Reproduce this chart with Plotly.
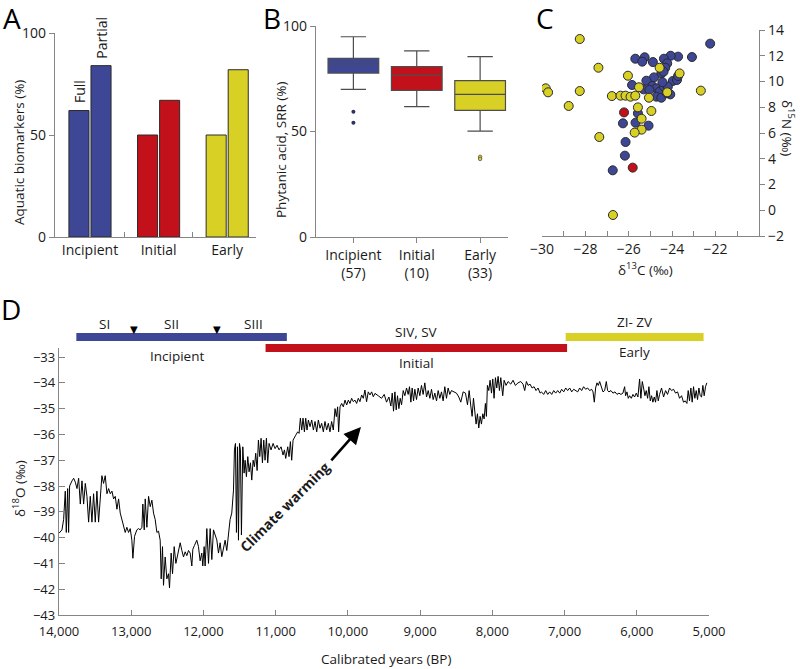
import plotly.graph_objects as go

W, H = 802, 669
FONT = "Open Sans"
AX = "#858585"
TXT = "#1a1a1a"

# ---------------- Panel A data ----------------
groups = ["Incipient", "Initial", "Early"]
group_colors = ["#3e4795", "#c3111b", "#d9d026"]
full_pct = [62, 50, 50]
partial_pct = [84, 67, 82]

# ---------------- Panel B data ----------------
box_n = [57, 10, 33]
box_lo = [70.0, 61.8, 50.2]
box_q1 = [77.7, 69.5, 60.0]
box_med = [82.0, 76.6, 67.6]
box_q3 = [84.7, 80.7, 74.1]
box_hi = [94.9, 88.2, 85.5]
outliers_incipient = [59.4, 54.2]
outliers_early = [38.0, 37.0]

# ---------------- Panel C data ----------------
c13_incipient = [-22.25, -23.09, -23.73, -24.07, -24.38, -25.27, -25.70, -25.38, -24.89, -24.23,
                 -24.32, -24.50, -24.40, -24.84, -25.19, -23.97, -23.78, -23.73, -25.85, -25.32,
                 -24.92, -24.73, -24.58, -24.38, -24.20, -24.73, -24.50, -24.09, -25.58, -25.69,
                 -26.27, -25.09, -26.15, -26.18, -26.74, -25.05, -24.45, -24.25]
n15_incipient = [12.94, 11.90, 11.93, 12.00, 11.77, 11.88, 11.77, 11.54, 11.51, 11.41,
                 11.07, 10.63, 10.76, 10.32, 10.06, 10.04, 10.12, 10.43, 9.73, 9.39,
                 9.65, 9.47, 9.21, 9.60, 9.60, 8.82, 8.74, 9.00, 7.53, 6.80,
                 6.75, 6.57, 5.30, 4.24, 3.10, 9.35, 9.95, 9.10]
c13_early = [-28.26, -29.83, -29.72, -28.77, -28.26, -27.40, -27.36, -26.78, -26.38, -26.15,
             -25.92, -25.70, -26.04, -25.53, -25.58, -25.41, -25.41, -25.73, -24.96, -25.07,
             -24.58, -24.23, -23.66, -22.68, -26.73]
n15_early = [13.30, 9.47, 9.16, 8.10, 9.26, 11.07, 5.69, 8.87, 8.90, 8.90,
             8.82, 8.90, 10.45, 9.55, 7.99, 7.11, 6.26, 6.03, 7.71, 8.74,
             11.07, 9.16, 10.63, 9.29, -0.37]
c13_initial = [-26.22, -25.82]
n15_initial = [7.60, 3.31]

# ---------------- Panel D data ----------------
years = [14000, 13959, 13936, 13913, 13899, 13880, 13867, 13853, 13820, 13797,
         13774, 13751, 13728, 13705, 13682, 13659, 13636, 13613, 13590, 13567,
         13544, 13521, 13498, 13475, 13452, 13429, 13406, 13383, 13360, 13336,
         13313, 13290, 13267, 13244, 13221, 13198, 13175, 13152, 13129, 13106,
         13083, 13060, 13037, 13014, 12991, 12977, 12954, 12922, 12899, 12876,
         12852, 12839, 12820, 12806, 12783, 12760, 12737, 12714, 12691, 12668,
         12645, 12622, 12599, 12585, 12567, 12553, 12530, 12507, 12484, 12470,
         12447, 12428, 12405, 12382, 12355, 12322, 12299, 12276, 12253, 12230,
         12207, 12184, 12161, 12147, 12124, 12092, 12069, 12046, 12023, 12009,
         11990, 11977, 11953, 11930, 11907, 11884, 11861,
         11815, 11792, 11769, 11746, 11723, 11700, 11677, 11654, 11631, 11608,
         11584, 11571, 11557, 11543, 11529, 11515, 11501, 11488, 11474, 11455,
         11437, 11423, 11405, 11386, 11368, 11349, 11331, 11312, 11294, 11276,
         11257, 11239, 11220, 11202, 11183, 11165, 11147, 11128, 11110, 11091,
         11064, 11036, 11008, 10981, 10953, 10925, 10898, 10879, 10861, 10833,
         10815, 10796, 10778, 10759, 10741, 10722, 10695, 10676, 10658, 10639,
         10621, 10602, 10584, 10566, 10547, 10524, 10501, 10478, 10455, 10432,
         10409, 10386, 10363, 10340, 10317, 10294, 10271, 10248, 10225, 10202,
         10178, 10160, 10142, 10128, 10109, 10086, 10063, 10040, 10017, 9994,
         9971, 9948, 9925, 9902, 9879, 9856, 9833, 9810, 9787, 9764,
         9741, 9718, 9694, 9671, 9648, 9625,
         9580, 9534, 9497, 9465, 9432, 9405, 9386, 9368, 9349, 9331,
         9313, 9294, 9276, 9257, 9234, 9211, 9188, 9165, 9147, 9128,
         9110, 9091, 9073, 9050, 9027, 9004, 8981, 8958, 8935, 8911,
         8888, 8865, 8842, 8819, 8796, 8773, 8750, 8727, 8704, 8681,
         8658, 8635, 8612, 8589, 8566, 8529, 8497, 8464, 8437, 8404,
         8372, 8344, 8321, 8298, 8280, 8261, 8243, 8225, 8206, 8188,
         8169, 8151, 8132, 8114, 8096, 8082, 8068, 8049, 8031, 8012,
         7994, 7976, 7957, 7939, 7920, 7902, 7883, 7856, 7837, 7810,
         7782, 7745, 7713, 7681, 7644, 7607, 7575, 7552, 7528, 7505,
         7478, 7450, 7422, 7395, 7367, 7339,
         7321, 7289, 7261, 7233, 7206, 7178, 7150, 7123, 7095, 7067,
         7040, 7012, 6984, 6957, 6929, 6901, 6874, 6846, 6818, 6791,
         6763, 6736, 6708, 6680, 6653, 6625, 6606, 6588, 6570, 6551,
         6533, 6514, 6491, 6468, 6445, 6422, 6404, 6385, 6357, 6330,
         6302, 6274, 6247, 6219, 6192, 6168, 6155, 6136, 6118, 6099,
         6076, 6053, 6030, 6007, 5984, 5961, 5943, 5924, 5906, 5887,
         5869, 5850, 5832, 5813, 5795, 5777, 5758, 5740, 5721, 5703,
         5684, 5657, 5629, 5601, 5574, 5546, 5518, 5491, 5463, 5435,
         5408, 5380, 5353, 5329, 5306, 5288, 5270, 5251, 5233, 5214,
         5196, 5177, 5159, 5140, 5122, 5103, 5085, 5067, 5048, 5030]
d18o = [-39.83, -39.7, -39.3, -38.2, -39.8, -38.1, -39.8, -38.0, -37.8, -37.7,
        -37.85, -38.1, -37.7, -38.7, -37.8, -38.7, -37.9, -38.4, -39.4, -38.4,
        -39.4, -38.3, -39.4, -38.2, -39.4, -38.4, -37.6, -37.9, -37.6, -38.3,
        -38.1, -38.3, -38.2, -38.5, -38.4, -38.9, -38.5, -39.05, -39.3, -39.6,
        -39.8, -39.6, -39.8, -39.65, -40.1, -40.8, -39.95, -39.7, -39.65, -39.7,
        -39.6, -38.7, -39.7, -38.5, -39.6, -38.4, -38.8, -38.55, -39.05, -39.3,
        -39.8, -39.75, -40.1, -41.6, -40.35, -41.85, -40.75, -41.6, -41.4, -41.95,
        -40.6, -41.4, -40.35, -41.0, -40.6, -40.2, -40.5, -40.75, -40.55, -40.7,
        -40.5, -40.6, -41.1, -40.45, -40.3, -40.1, -40.35, -40.9, -40.6, -41.1,
        -40.35, -41.1, -39.65, -41.0, -39.65, -40.85, -39.7,
        -40.09, -40.6, -40.2, -40.74, -40.35, -40.1, -40.5, -39.8, -39.3, -39.05,
        -38.16, -36.6, -36.35, -39.8, -36.48, -40.1, -36.35, -36.6, -39.9, -36.48,
        -37.5, -37.0, -37.64, -36.86, -37.45, -37.1, -37.77, -37.0, -37.25, -36.73,
        -37.4, -36.22, -36.86, -36.15, -37.1, -36.22, -37.0, -36.15, -37.1, -36.35,
        -36.6, -36.35, -36.55, -36.42, -36.6, -36.48, -36.8, -36.6, -36.93, -36.48,
        -36.86, -36.28, -37.0, -36.22, -36.1, -36.03, -35.9, -35.96, -35.37, -35.83,
        -35.37, -35.9, -35.37, -35.83, -35.44, -35.7, -35.44, -35.83, -35.5, -35.9,
        -35.44, -35.76, -35.57, -35.9, -35.5, -35.83, -35.57, -35.9, -35.5, -35.83,
        -35.0, -35.31, -34.93, -35.9, -34.93, -34.8, -34.93, -34.67, -34.86, -34.67,
        -34.8, -34.6, -34.73, -34.67, -34.8, -34.6, -34.73, -34.47, -34.6, -34.28,
        -34.73, -34.35, -34.47, -34.35, -34.54, -34.41,
        -34.5, -34.6, -34.45, -34.75, -34.55, -34.9, -34.4, -35.1, -34.35, -35.05,
        -34.5, -35.0, -34.6, -34.85, -34.3, -34.5, -34.2, -34.45, -34.15, -34.75,
        -34.2, -34.7, -34.25, -34.65, -34.2, -34.5, -34.1, -34.45, -34.0, -34.55,
        -34.3, -34.6, -34.25, -34.65, -34.4, -34.7, -34.3, -34.6, -34.35, -34.7,
        -34.15, -34.6, -34.2, -34.45, -34.3, -34.35, -34.4, -34.55, -34.75, -34.35,
        -34.4, -34.85, -34.3, -34.9, -35.3, -34.6, -35.1, -35.6, -35.2, -35.75,
        -35.3, -35.6, -35.2, -35.4, -34.8, -35.3, -34.1, -34.3, -33.9, -34.4,
        -33.85, -34.6, -33.8, -34.2, -33.75, -34.3, -33.8, -34.5, -33.9, -34.1,
        -33.95, -34.05, -33.9, -34.1, -34.0, -33.95, -34.05, -34.3, -33.95, -34.1,
        -34.05, -34.2, -34.15, -34.3, -34.2, -34.4,
        -34.35, -34.45, -34.3, -34.45, -34.35, -34.45, -34.3, -34.4, -34.3, -34.4,
        -34.25, -34.35, -34.2, -34.3, -34.2, -34.35, -34.25, -34.3, -34.35, -34.2,
        -34.3, -34.15, -34.25, -34.2, -34.3, -34.25, -34.35, -34.75, -34.2, -34.0,
        -34.1, -33.95, -34.2, -34.35, -34.3, -33.95, -34.3, -34.35, -34.3, -34.4,
        -34.35, -34.45, -34.4, -34.45, -34.4, -34.15, -34.5, -34.35, -34.6, -34.5,
        -34.6, -34.45, -34.55, -34.4, -34.55, -33.85, -34.6, -33.95, -34.2, -34.5,
        -34.3, -34.6, -34.15, -34.7, -34.5, -34.75, -34.55, -34.75, -34.3, -34.7,
        -34.45, -34.2, -34.55, -34.3, -34.45, -34.2, -34.3, -34.25, -34.4, -34.35,
        -34.6, -34.5, -34.75, -34.7, -34.8, -34.3, -34.7, -34.2, -34.75, -34.15,
        -34.6, -34.3, -34.65, -34.2, -34.5, -34.55, -34.1, -34.5, -34.15, -34.0]

phase_names = ["Incipient", "Initial", "Early"]
phase_start = [13760, 11140, 6985]
phase_end = [10845, 6965, 5075]
phase_codes = ["", "SIV, SV", "ZI- ZV"]
sub_labels = ["SI", "SII", "SIII"]
sub_label_years = [13373, 12447, 11313]
sub_break_years = [12959, 11811]
warming_arrow_tail = (10248, -37.06)
warming_arrow_head = (9819, -35.71)


def fx(px):
    return px / W


def fy(py):
    return 1 - py / H


fig = go.Figure()

# ---- A: bars
fig.add_trace(go.Bar(x=groups, y=full_pct, xaxis="x", yaxis="y", offsetgroup="full",
                     marker=dict(color=group_colors, line=dict(color="#2b2b2b", width=1)),
                     showlegend=False, hoverinfo="skip"))
fig.add_trace(go.Bar(x=groups, y=partial_pct, xaxis="x", yaxis="y", offsetgroup="partial",
                     marker=dict(color=group_colors, line=dict(color="#2b2b2b", width=1)),
                     showlegend=False, hoverinfo="skip"))

# ---- B: boxes
for i, g in enumerate(groups):
    fig.add_trace(go.Box(x=[g], q1=[box_q1[i]], median=[box_med[i]], q3=[box_q3[i]],
                         lowerfence=[box_lo[i]], upperfence=[box_hi[i]],
                         width=0.8, whiskerwidth=0.5, fillcolor=group_colors[i],
                         line=dict(color="#4d4d4d", width=1.2), boxpoints=False,
                         xaxis="x2", yaxis="y2", showlegend=False, hoverinfo="skip"))
fig.add_trace(go.Scatter(x=[groups[0]] * len(outliers_incipient), y=outliers_incipient,
                         mode="markers", marker=dict(size=4, color="#2c3163"),
                         xaxis="x2", yaxis="y2", showlegend=False, hoverinfo="skip"))
fig.add_trace(go.Scatter(x=[groups[2]] * len(outliers_early), y=outliers_early,
                         mode="markers",
                         marker=dict(size=3.5, color=group_colors[2], line=dict(color="#555", width=0.8)),
                         xaxis="x2", yaxis="y2", showlegend=False, hoverinfo="skip"))

# ---- C: scatter
for xs, ys, col in [(c13_incipient, n15_incipient, group_colors[0]),
                    (c13_early, n15_early, group_colors[2]),
                    (c13_initial, n15_initial, group_colors[1])]:
    fig.add_trace(go.Scatter(x=xs, y=ys, mode="markers",
                             marker=dict(size=9, color=col, line=dict(color="#2a2a2a", width=1)),
                             xaxis="x3", yaxis="y3", showlegend=False, hoverinfo="skip"))

# ---- D: line
fig.add_trace(go.Scatter(x=years, y=d18o, mode="lines", line=dict(color="black", width=1),
                         xaxis="x4", yaxis="y4", showlegend=False, hoverinfo="skip"))

tickfont = dict(family=FONT, size=13, color=TXT)
axis_common = dict(showline=True, linecolor=AX, linewidth=1.3, showgrid=False, zeroline=False,
                   tickcolor=AX, tickfont=tickfont, fixedrange=True, automargin=False)

layout = dict(
    width=W, height=H, autosize=False,
    margin=dict(l=0, r=0, t=0, b=0, pad=0),
    paper_bgcolor="white", plot_bgcolor="white",
    font=dict(family=FONT, size=13, color=TXT),
    barmode="group", bargap=0.357, bargroupgap=0.09,
    boxmode="overlay",
    hovermode=False,
    xaxis=dict(axis_common, domain=[fx(55), fx(256)], anchor="y", type="category",
               categoryorder="array", categoryarray=groups, range=[-0.51, 2.42],
               tickson="boundaries", ticks="inside", ticklen=5, tickfont=dict(tickfont, size=14)),
    yaxis=dict(axis_common, domain=[fy(237), fy(33)], anchor="x", range=[0, 100],
               tickvals=[0, 50, 100], ticks="outside", ticklen=5, tickfont=dict(tickfont, size=14)),
    xaxis2=dict(axis_common, domain=[fx(316), fx(508)], anchor="y2", type="category",
                categoryorder="array", categoryarray=groups, range=[-0.59, 2.44],
                tickvals=groups, ticktext=[f"{g}<br>({n})" for g, n in zip(groups, box_n)],
                ticks="outside", ticklen=5, tickfont=dict(tickfont, size=14)),
    yaxis2=dict(axis_common, domain=[fy(237), fy(26)], anchor="x2", range=[0, 100],
                tickvals=[0, 50, 100], ticks="outside", ticklen=5, tickfont=dict(tickfont, size=14)),
    xaxis3=dict(axis_common, domain=[fx(542), fx(759)], anchor="y3", range=[-30, -20],
                tickvals=[-30, -28, -26, -24, -22], ticks="inside", ticklen=5,
                minor=dict(tickvals=[-29, -27, -25, -23, -21], ticks="inside", ticklen=5, tickcolor=AX),
                tickfont=dict(tickfont, size=14)),
    yaxis3=dict(axis_common, domain=[fy(236), fy(30)], anchor="x3", side="right", range=[-2, 14],
                tickvals=list(range(-2, 15, 2)), ticks="outside", ticklen=5,
                tickfont=dict(tickfont, size=14)),
    xaxis4=dict(axis_common, domain=[fx(59), fx(709)], anchor="y4", range=[14000, 5000],
                tickvals=list(range(14000, 4999, -1000)), tickformat=",d", ticks="inside", ticklen=5,
                ticklabelstandoff=4),
    yaxis4=dict(axis_common, domain=[fy(615), fy(348)], anchor="x4", range=[-43, -32.65],
                tickvals=list(range(-43, -32)), ticks="inside", ticklen=6),
)
fig.update_layout(**layout)

ann = []


def text_ann(txt, x, y, size=13, xref="paper", yref="paper", angle=0, bold=False, **kw):
    d = dict(text=f"<b>{txt}</b>" if bold else txt, x=x, y=y, xref=xref, yref=yref,
             showarrow=False, textangle=angle, xanchor="center", yanchor="middle",
             font=dict(family=FONT, size=size, color=TXT))
    d.update(kw)
    ann.append(d)


# panel letters
for letter, (px, py) in zip("ABCD", [(12, 18), (272, 18), (545, 18), (11, 309)]):
    text_ann(letter, fx(px), fy(py), size=28, font=dict(family=FONT, size=28, color="black"))

# A: Full / Partial labels
text_ann("Full", groups[0], full_pct[0], xref="x", yref="y", angle=-90, size=14,
         yanchor="bottom", xshift=-11, yshift=6)
text_ann("Partial", groups[0], partial_pct[0], xref="x", yref="y", angle=-90, size=14,
         yanchor="bottom", xshift=12, yshift=5)

# axis titles
text_ann("Aquatic biomarkers (%)", fx(19), fy(153), size=13.5, angle=-90)
text_ann("Phytanic acid, SRR (%)", fx(281), fy(150), size=13.5, angle=-90)
text_ann("δ<sup>13</sup>C (‰)", fx(645), fy(269), size=13.5)
text_ann("δ<sup>15</sup>N (‰)", fx(788), fy(128), size=13.5, angle=90)
text_ann("δ<sup>18</sup>O (‰)", fx(19), fy(489), size=13.5, angle=-90)
text_ann("Calibrated years (BP)", fx(386), fy(659), size=13.5)

# D: phase labels
for yr, lab in zip(sub_label_years, sub_labels):
    text_ann(lab, yr, fy(324), xref="x4", size=13.5)
for yr in sub_break_years:
    text_ann("▼", yr, fy(329), xref="x4", size=10, font=dict(family="DejaVu Sans", size=10, color="black"))
phase_label_y = [356, 363, 352]
code_y = [None, 332, 322]
for i, name in enumerate(phase_names):
    mid = (phase_start[i] + phase_end[i]) / 2
    if i == 0:
        mid = 12364
    text_ann(name, mid, fy(phase_label_y[i]), xref="x4", size=13.5)
    if phase_codes[i]:
        text_ann(phase_codes[i], mid, fy(code_y[i]), xref="x4", size=13.5)

text_ann("Climate warming", 10870, -38.81, xref="x4", yref="y4", angle=-45, size=14, bold=True)

ann.append(dict(x=warming_arrow_head[0], y=warming_arrow_head[1], xref="x4", yref="y4",
                ax=warming_arrow_tail[0], ay=warming_arrow_tail[1], axref="x4", ayref="y4",
                text="", showarrow=True, arrowhead=2, arrowsize=1.3, arrowwidth=2.6,
                arrowcolor="black"))

fig.update_layout(annotations=ann)

# phase bars
shapes = []
bar_y = [337, 348, 337]
for i in range(3):
    shapes.append(dict(type="line", xref="x4", yref="paper", x0=phase_start[i], x1=phase_end[i],
                       y0=fy(bar_y[i]), y1=fy(bar_y[i]),
                       line=dict(color=group_colors[i], width=8)))
fig.update_layout(shapes=shapes)

fig.write_html("out.html", config={"displayModeBar": False},
               post_script="document.body.style.margin='0';document.body.style.overflow='hidden';")
